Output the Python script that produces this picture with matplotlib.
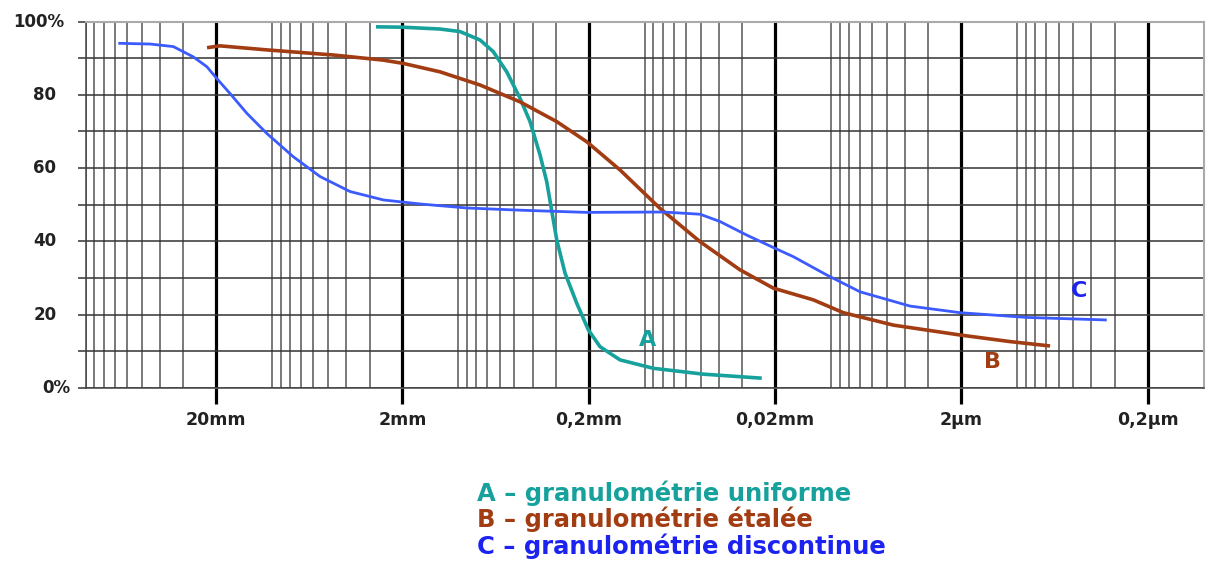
import matplotlib
matplotlib.use("Agg")
import matplotlib.pyplot as plt
import matplotlib.transforms as mtransforms

# ---- data (particle size in mm, % passing) ----
size_A = [2.77, 2.0, 1.255, 0.980, 0.765, 0.6495, 0.5503, 0.4669, 0.4126, 0.3646,
          0.3357, 0.3184, 0.2966, 0.2677, 0.2317, 0.2007, 0.1737, 0.1357, 0.0899,
          0.04844, 0.02354]
pass_A = [98.6, 98.5, 98.0, 97.3, 95.0, 91.8, 86.3, 79.1, 72.7, 63.6,
          56.3, 49.5, 40.4, 31.3, 23.1, 15.8, 11.2, 7.6, 5.3,
          3.7, 2.6]

size_B = [22.35, 19.04, 10.69, 4.692, 2.529, 1.975, 1.255, 0.765, 0.4669, 0.2966,
          0.2047, 0.1357, 0.08276, 0.05047, 0.03079, 0.02040, 0.01244, 0.00859,
          0.004628, 0.002030, 0.001094, 0.000667]
pass_B = [92.9, 93.4, 92.3, 90.9, 89.5, 88.6, 86.3, 82.7, 78.1, 72.7,
          67.2, 59.5, 49.0, 39.9, 32.2, 27.2, 24.0, 20.5,
          17.1, 14.4, 12.6, 11.4]

size_C = [66.9, 45.2, 33.9, 26.5, 22.4, 19.83, 16.83, 13.68, 10.69, 7.693, 5.531,
          3.817, 2.529, 1.607, 0.899, 0.4669, 0.2047, 0.07946, 0.05047, 0.03942,
          0.02835, 0.02040, 0.01593, 0.01054, 0.006987, 0.003765, 0.002030,
          0.000890, 0.000331]
pass_C = [94.1, 93.9, 93.2, 90.4, 87.7, 84.5, 80.4, 75.0, 69.5, 63.1, 57.7,
          53.6, 51.3, 50.2, 49.1, 48.5, 47.9, 48.0, 47.4, 45.4,
          41.7, 38.3, 35.8, 30.8, 26.2, 22.3, 20.5,
          19.2, 18.5]

major_sizes = [20, 2, 0.2, 0.02, 0.002, 0.0002]
major_labels = ["20mm", "2mm", "0,2mm", "0,02mm", "2\u00b5m", "0,2\u00b5m"]
y_labels = ["0%", "20", "40", "60", "80", "100%"]
y_label_vals = [0, 20, 40, 60, 80, 100]

legend_texts = ["A \u2013 granulométrie uniforme",
                "B \u2013 granulométrie étalée",
                "C \u2013 granulométrie discontinue"]

col_A = "#17a19c"
col_B = "#a23c12"
col_C = "#3b5bff"
txt_C = "#1c22f0"

fig = plt.figure(figsize=(12.08, 5.61), dpi=100)
W, H = 1208, 561
x0, x1 = 85.8, 1203.6
y0, y1 = 387.7, 21.7
ax = fig.add_axes([x0 / W, 1 - y0 / H, (x1 - x0) / W, (y0 - y1) / H])

ax.set_xscale("log")
ax.set_xlim(100, 1e-4)
ax.set_ylim(0, 100)

# grid
minor = []
for n in range(-4, 3):
    for k in [1, 3, 4, 5, 6, 7, 8, 9]:
        v = k * 10.0 ** n
        if 1e-4 <= v <= 100:
            minor.append(v)
ax.set_xticks(major_sizes)
ax.set_xticklabels(major_labels)
ax.set_xticks(minor, minor=True)
ax.xaxis.set_minor_formatter(plt.NullFormatter())
ax.grid(True, which="major", axis="x", color="black", lw=2.3)
ax.grid(True, which="minor", axis="x", color="#555555", lw=1.1)
ax.set_yticks(range(0, 101, 10))
ax.grid(True, which="major", axis="y", color="#333333", lw=1.1)
ax.set_axisbelow(True)

ax.tick_params(axis="x", which="major", length=11.5, width=2.3, color="black",
               pad=5, labelsize=12.5)
ax.tick_params(axis="x", which="minor", length=0)
ax.tick_params(axis="y", which="major", length=5.8, width=1.1, color="#333333",
               labelleft=False)
for lab in ax.get_xticklabels():
    lab.set_fontweight("bold")
    lab.set_color("#222222")

for side in ["top", "right"]:
    ax.spines[side].set_color("#aaaaaa")
    ax.spines[side].set_linewidth(1.5)
for side in ["bottom", "left"]:
    ax.spines[side].set_color("#444444")
    ax.spines[side].set_linewidth(1.1)

# y labels
trans = mtransforms.blended_transform_factory(fig.transFigure, ax.transData)
y_label_x = [56, 45, 45, 45, 45, 39]
for v, t, xp in zip(y_label_vals, y_labels, y_label_x):
    ax.text(xp / W, v, t, transform=trans, ha="center", va="center",
            fontsize=12, fontweight="bold", color="#222222", clip_on=False)

# curves
line_kw = dict(solid_capstyle="butt", solid_joinstyle="round", zorder=3)
ax.plot(size_A, pass_A, color=col_A, lw=2.6, **line_kw)
ax.plot(size_B, pass_B, color=col_B, lw=2.6, **line_kw)
ax.plot(size_C, pass_C, color=col_C, lw=2.0, **line_kw)

# curve letters
ax.text(0.0965, 13, "A", color=col_A, fontsize=16, fontweight="bold",
        ha="center", va="center")
ax.text(0.00136, 7, "B", color=col_B, fontsize=16, fontweight="bold",
        ha="center", va="center")
ax.text(0.000465, 26.4, "C", color=txt_C, fontsize=16, fontweight="bold",
        ha="center", va="center")

# legend texts
leg_cols = [col_A, col_B, txt_C]
leg_y = [493, 519, 546]
for t, c, yp in zip(legend_texts, leg_cols, leg_y):
    fig.text(477 / W, 1 - yp / H, t, color=c, fontsize=17.5, fontweight="bold",
             ha="left", va="center")

fig.savefig("out.png", dpi=100)
